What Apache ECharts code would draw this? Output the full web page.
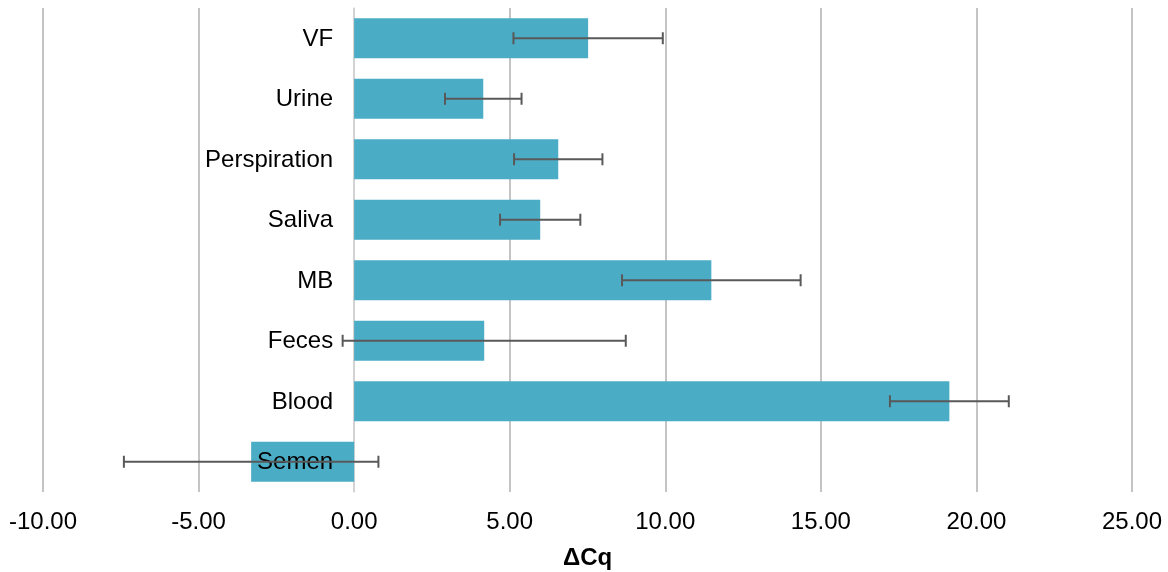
<!DOCTYPE html>
<html>
<head>
<meta charset="utf-8">
<script src="https://cdn.jsdelivr.net/npm/echarts@6/dist/echarts.min.js"></script>
<style>html,body{margin:0;padding:0;background:#fff}#c{width:1168px;height:572px}</style>
</head>
<body>
<div id="c"></div>
<script>
var categories = ['Semen', 'Blood', 'Feces', 'MB', 'Saliva', 'Perspiration', 'Urine', 'VF'];
var values = [-3.31, 19.13, 4.18, 11.48, 5.98, 6.56, 4.15, 7.52];
var errors = [4.09, 1.91, 4.55, 2.87, 1.29, 1.42, 1.23, 2.40];
var xTicks = { min: -10, max: 25, interval: 5 };

var errData = values.map(function (v, i) { return [i, v - errors[i], v + errors[i]]; });
var labelData = categories.map(function (c, i) { return [i, 0]; });

var chart = echarts.init(document.getElementById('c'));
chart.setOption({
  animation: false,
  grid: { left: 43, right: 36, top: 8, bottom: 80, outerBoundsMode: 'none', containLabel: false },
  xAxis: {
    type: 'value', min: xTicks.min, max: xTicks.max, interval: xTicks.interval,
    name: 'ΔCq', nameLocation: 'middle', nameGap: 54,
    nameTextStyle: { fontFamily: 'Liberation Sans', fontSize: 24, fontWeight: 'bold', color: '#000' },
    axisLine: { show: false }, axisTick: { show: false },
    axisLabel: { fontFamily: 'Liberation Sans', fontSize: 24, color: '#000', margin: 18,
      formatter: function (v) { return v.toFixed(2); } },
    splitLine: { show: true, lineStyle: { color: '#C4C4C4', width: 2 } }
  },
  yAxis: {
    type: 'category', data: categories,
    axisLine: { show: true, onZero: true, lineStyle: { color: '#D9D9D9', width: 1.5 } },
    axisTick: { show: false },
    axisLabel: { show: false }
  },
  series: [
    {
      type: 'bar', data: values, barWidth: 40,
      itemStyle: { color: '#4BACC6' }
    },
    {
      type: 'custom', z: 5, data: labelData, silent: true,
      renderItem: function (params, api) {
        var p = api.coord([api.value(1), api.value(0)]);
        return {
          type: 'text',
          style: {
            x: p[0] - 21, y: p[1] + 1,
            text: categories[params.dataIndex],
            align: 'right', verticalAlign: 'middle',
            font: '24px "Liberation Sans"', fill: '#000'
          }
        };
      }
    },
    {
      type: 'custom', z: 10, data: errData,
      renderItem: function (params, api) {
        var c = api.value(0);
        var lo = api.coord([api.value(1), c]);
        var hi = api.coord([api.value(2), c]);
        var h = 6;
        var st = { stroke: '#595959', lineWidth: 2 };
        return {
          type: 'group',
          children: [
            { type: 'line', shape: { x1: lo[0], y1: lo[1], x2: hi[0], y2: hi[1] }, style: st },
            { type: 'line', shape: { x1: lo[0], y1: lo[1] - h, x2: lo[0], y2: lo[1] + h }, style: st },
            { type: 'line', shape: { x1: hi[0], y1: hi[1] - h, x2: hi[0], y2: hi[1] + h }, style: st }
          ]
        };
      }
    }
  ]
});
</script>
</body>
</html>
